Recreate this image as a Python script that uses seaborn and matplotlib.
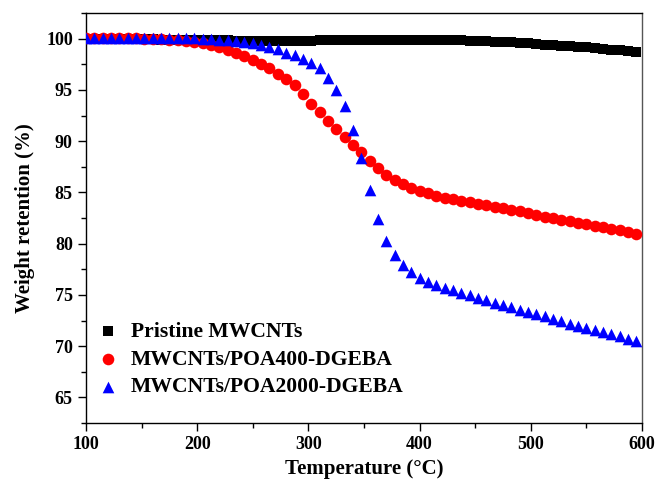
import numpy as np
import pandas as pd
import matplotlib
matplotlib.use("Agg")
import matplotlib.pyplot as plt
from matplotlib.ticker import MultipleLocator
import seaborn as sns

temperature = [100, 107.5, 115, 122.5, 130, 137.5, 145, 152.5, 160, 167.5,
               175, 182.5, 190, 197.5, 205, 212.5, 220, 227.5, 235, 242.5,
               250, 257.5, 265, 272.5, 280, 287.5, 295, 302.5, 310, 317.5,
               325, 332.5, 340, 347.5, 355, 362.5, 370, 377.5, 385, 392.5,
               400, 407.5, 415, 422.5, 430, 437.5, 445, 452.5, 460, 467.5,
               475, 482.5, 490, 497.5, 505, 512.5, 520, 527.5, 535, 542.5,
               550, 557.5, 565, 572.5, 580, 587.5, 595]

pristine = [100.0, 99.99, 99.98, 99.97, 99.96, 99.95, 99.94, 99.93, 99.92, 99.91,
            99.90, 99.89, 99.88, 99.87, 99.86, 99.85, 99.84, 99.83, 99.82, 99.82,
            99.81, 99.81, 99.81, 99.81, 99.81, 99.82, 99.82, 99.82, 99.83, 99.83,
            99.84, 99.84, 99.85, 99.85, 99.86, 99.86, 99.87, 99.87, 99.88, 99.88,
            99.88, 99.88, 99.87, 99.86, 99.85, 99.83, 99.81, 99.78, 99.75, 99.71,
            99.67, 99.63, 99.58, 99.53, 99.48, 99.43, 99.37, 99.32, 99.26, 99.20,
            99.14, 99.08, 99.01, 98.94, 98.86, 98.78, 98.69]

poa400 = [100.1, 100.1, 100.1, 100.08, 100.07, 100.05, 100.03, 100.0, 99.97, 99.93,
          99.9, 99.85, 99.8, 99.7, 99.55, 99.38, 99.15, 98.9, 98.62, 98.3,
          97.95, 97.55, 97.1, 96.6, 96.1, 95.5, 94.6, 93.65, 92.8, 92.0,
          91.2, 90.4, 89.65, 88.9, 88.1, 87.4, 86.75, 86.2, 85.8, 85.45,
          85.15, 84.9, 84.7, 84.5, 84.35, 84.2, 84.05, 83.9, 83.75, 83.6,
          83.45, 83.3, 83.15, 82.95, 82.8, 82.65, 82.5, 82.35, 82.2, 82.05,
          81.9, 81.75, 81.6, 81.45, 81.3, 81.1, 80.95]

poa2000 = [100.1, 100.1, 100.1, 100.1, 100.1, 100.1, 100.1, 100.1, 100.08, 100.07,
           100.06, 100.05, 100.04, 100.02, 100.0, 99.95, 99.9, 99.85, 99.78, 99.68,
           99.57, 99.42, 99.2, 98.95, 98.65, 98.4, 98.05, 97.6, 97.1, 96.2,
           95.0, 93.4, 91.1, 88.4, 85.2, 82.4, 80.3, 78.9, 77.9, 77.2,
           76.7, 76.3, 76.0, 75.7, 75.45, 75.2, 74.95, 74.7, 74.5, 74.25,
           74.0, 73.8, 73.55, 73.3, 73.1, 72.9, 72.65, 72.45, 72.2, 72.0,
           71.8, 71.6, 71.4, 71.15, 70.95, 70.75, 70.5]

labels = ["Pristine MWCNTs", "MWCNTs/POA400-DGEBA", "MWCNTs/POA2000-DGEBA"]
colors = ["#000000", "#ff0000", "#0000ff"]
markers = ["s", "o", "^"]
sizes = [42, 70, 70]

df = pd.DataFrame({
    "T": temperature * 3,
    "W": pristine + poa400 + poa2000,
    "sample": [labels[0]] * len(temperature) + [labels[1]] * len(temperature)
              + [labels[2]] * len(temperature),
})

sns.set_style("ticks")
plt.rcParams["font.family"] = ["Liberation Serif", "DejaVu Serif"]
plt.rcParams["font.weight"] = "bold"
for key in ["text.color", "axes.labelcolor", "xtick.color", "ytick.color", "axes.edgecolor"]:
    plt.rcParams[key] = "black"

fig = plt.figure(figsize=(6.57, 4.83), dpi=100)
ax = fig.add_axes([0.131, 0.124, 0.846, 0.849])

for lab, col, mk, sz in zip(labels, colors, markers, sizes):
    sub = df[df["sample"] == lab]
    sns.scatterplot(data=sub, x="T", y="W", color=col, marker=mk, s=sz,
                    linewidth=0, ax=ax, label=lab, zorder=3)

ax.set_xlim(100, 600)
ax.set_ylim(62.5, 102.5)
ax.xaxis.set_major_locator(MultipleLocator(100))
ax.xaxis.set_minor_locator(MultipleLocator(50))
ax.yaxis.set_major_locator(MultipleLocator(5))
ax.yaxis.set_minor_locator(MultipleLocator(2.5))
ax.yaxis.set_major_formatter(matplotlib.ticker.FuncFormatter(lambda v, p: f"{v:.0f}"))
ax.tick_params(which="major", direction="out", length=6, width=1, labelsize=13,
               colors="black")
ax.tick_params(which="minor", direction="out", length=3.5, width=1, colors="black")
for s in ax.spines.values():
    s.set_visible(True)
    s.set_color("black")
    s.set_linewidth(1.0)
ax.spines["right"].set_color("#555555")

ax.set_xlabel("Temperature (°C)", fontsize=15, fontweight="bold", labelpad=4,
              color="black")
ax.set_ylabel("Weight retention (%)", fontsize=15, fontweight="bold", labelpad=8,
              color="black")

leg = ax.legend(loc="upper left", bbox_to_anchor=(0.02, 0.247), frameon=False,
                handlelength=1.0, handletextpad=0.55,
                labelspacing=0.35, borderpad=0, borderaxespad=0,
                prop={"weight": "bold", "size": 15.6})
for t in leg.get_texts():
    t.set_color("black")

fig.savefig("out.png", dpi=100)
